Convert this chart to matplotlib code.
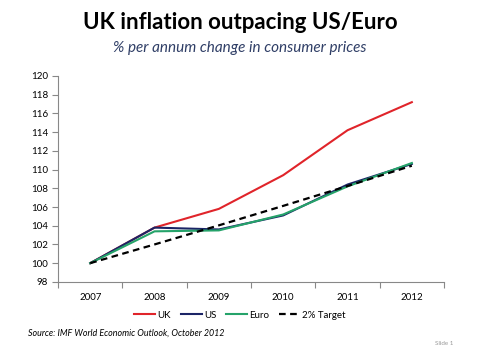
import numpy as np
import matplotlib
matplotlib.use('Agg')
import matplotlib.pyplot as plt

plt.rcParams['font.family'] = ['Lato', 'DejaVu Sans']

years = ['2007', '2008', '2009', '2010', '2011', '2012']
uk = [100, 103.8, 105.8, 109.4, 114.2, 117.2]
us = [100, 103.8, 103.6, 105.1, 108.4, 110.6]
euro = [100, 103.4, 103.5, 105.2, 108.2, 110.7]
target = [100, 102.0, 104.04, 106.12, 108.24, 110.41]
yticks = np.arange(98, 121, 2)

fig = plt.figure(figsize=(4.8, 3.6), dpi=100)
ax = fig.add_axes([0.121, 0.217, 0.804, 0.572])

x = np.arange(len(years))
ax.plot(x, uk, color='#E0242A', lw=1.5, label='UK')
ax.plot(x, us, color='#1B2466', lw=1.5, label='US')
ax.plot(x, euro, color='#25A36A', lw=1.5, label='Euro')
ax.plot(x, target, color='black', lw=1.6, ls=(0, (3, 2)), label='2% Target')

ax.set_xlim(-0.5, len(years) - 0.5)
ax.set_ylim(98, 120)
ax.set_yticks(yticks)
ax.set_yticklabels([str(v) for v in yticks], fontsize=7)

# category axis: tick marks between categories, labels centred
ax.set_xticks(np.arange(-0.5, len(years), 1))
ax.set_xticklabels([])
ax.set_xticks(x, minor=True)
ax.set_xticklabels(years, minor=True, fontsize=7)
ax.tick_params(axis='x', which='minor', length=0, pad=8)
ax.tick_params(axis='x', which='major', length=4, color='#888888')
ax.tick_params(axis='y', length=4, color='#888888', pad=3)

for s in ['top', 'right']:
    ax.spines[s].set_visible(False)
for s in ['left', 'bottom']:
    ax.spines[s].set_color('#888888')
    ax.spines[s].set_linewidth(0.8)

leg = fig.legend(loc='center', bbox_to_anchor=(0.5, 0.125), ncol=4, frameon=False,
                 fontsize=7, handlelength=2.2, handletextpad=0.2, columnspacing=1.0)

fig.text(0.5, 0.937, 'UK inflation outpacing US/Euro', ha='center', va='center',
         fontsize=16, fontweight='bold', color='black')
fig.text(0.5, 0.866, '% per annum change in consumer prices', ha='center', va='center',
         fontsize=11, style='italic', color='#2F3E66')
fig.text(0.058, 0.075, 'Source: IMF World Economic Outlook, October 2012', ha='left',
         va='center', fontsize=6.4, style='italic', color='black')
fig.text(0.945, 0.047, 'Slide 1', ha='right', va='center', fontsize=4.5, color='#999999')

fig.savefig('out.png', dpi=100)
